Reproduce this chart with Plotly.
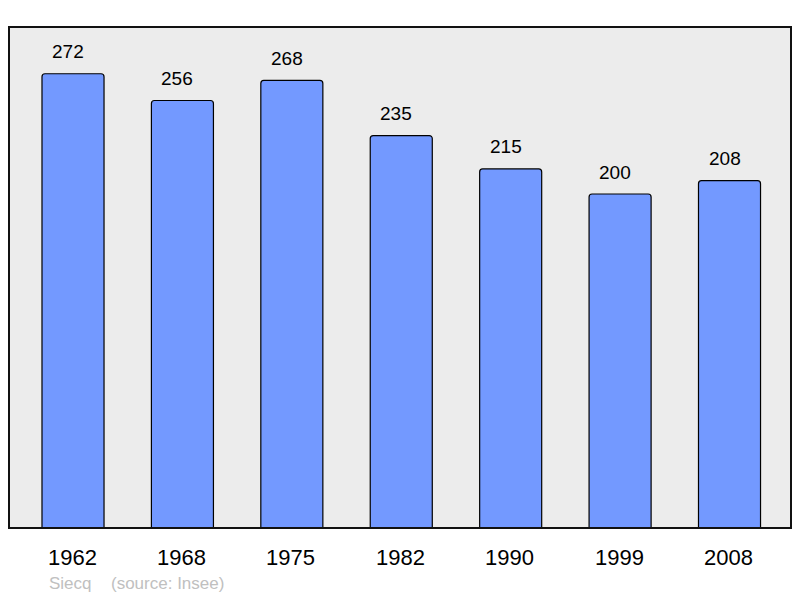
import plotly.graph_objects as go

years = ["1962", "1968", "1975", "1982", "1990", "1999", "2008"]
population = [272, 256, 268, 235, 215, 200, 208]

xs = list(range(len(years)))

fig = go.Figure()
fig.add_trace(go.Bar(
    x=xs, y=population, width=0.567,
    marker=dict(color="#7399FF", line=dict(color="#000000", width=1.2), cornerradius=3),
    hoverinfo="skip",
))

for i, (yr, v) in enumerate(zip(years, population)):
    fig.add_annotation(x=i, y=v, xref="x", yref="y", text=str(v), showarrow=False,
                       yshift=22, xshift=-5,
                       font=dict(family="Liberation Sans, Arial", size=19, color="#000"))
    fig.add_annotation(x=i, y=0, xref="x", yref="y", text=yr, showarrow=False,
                       yshift=-29, xshift=-1,
                       font=dict(family="Liberation Sans, Arial", size=22, color="#000"))

foot_y = (528 - 583) / 501
fig.add_annotation(x=(47 - 9) / 782, y=foot_y, xref="paper", yref="paper", text="Siecq",
                   showarrow=False, xanchor="left", yanchor="middle",
                   font=dict(family="Liberation Sans, Arial", size=17, color="#c0c0c0"))
fig.add_annotation(x=(109 - 9) / 782, y=foot_y, xref="paper", yref="paper",
                   text="(source: Insee)", showarrow=False, xanchor="left", yanchor="middle",
                   font=dict(family="Liberation Sans, Arial", size=17, color="#c0c0c0"))

fig.update_layout(
    width=800, height=598,
    margin=dict(l=9, r=9, t=27, b=70),
    paper_bgcolor="white", plot_bgcolor="#ececec",
    showlegend=False,
    xaxis=dict(range=[-0.585, 6.562], showticklabels=False, showgrid=False, zeroline=False, fixedrange=True),
    yaxis=dict(range=[0, 300], showticklabels=False, showgrid=False, zeroline=False, fixedrange=True),
    shapes=[dict(type="rect", xref="paper", yref="paper", x0=0, x1=1, y0=0, y1=1,
                 line=dict(color="#111", width=2))],
)

fig.write_html("out.html", config={"displayModeBar": False},
               post_script="document.body.style.margin='0';document.body.style.overflow='hidden';")
